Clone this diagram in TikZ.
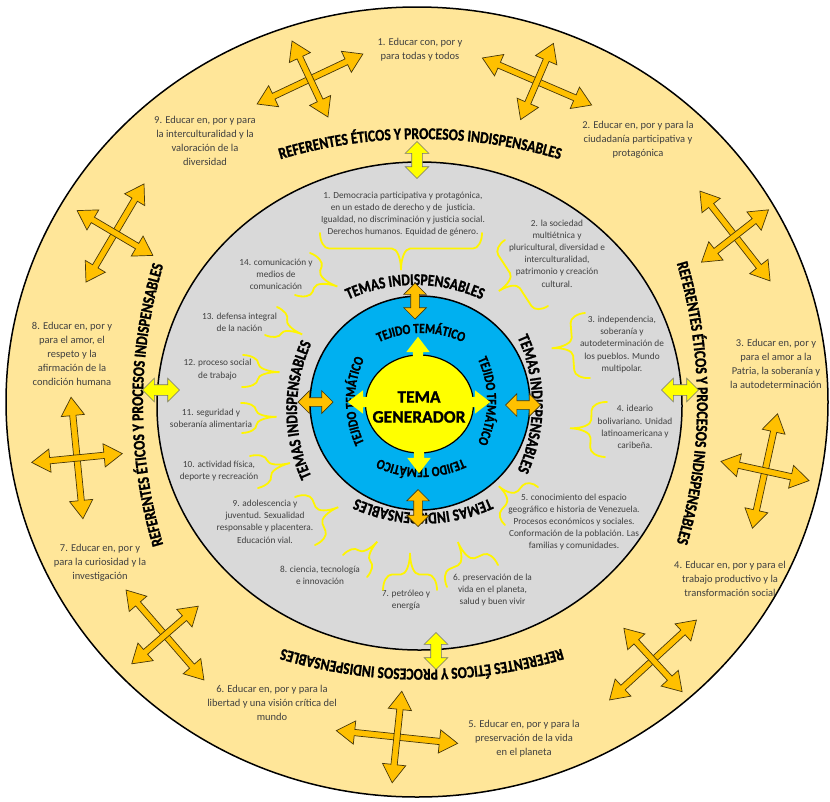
\documentclass[tikz,border=0pt]{standalone}
\usepackage{fontspec}
\setmainfont{Carlito}
\newfontfamily\arcfont{Carlito Bold}[FakeStretch=0.82, FakeBold=1.2]
\newfontfamily\genfont{Carlito Bold}[FakeBold=1.2]
\usetikzlibrary{shapes.arrows,decorations.text,calc}
\definecolor{bandorange}{RGB}{255,230,153}
\definecolor{ringgray}{RGB}{217,217,217}
\definecolor{tejidoblue}{RGB}{0,176,240}
\definecolor{generyellow}{RGB}{255,255,0}
\definecolor{arroworange}{RGB}{255,192,0}
\definecolor{arrowedge}{RGB}{70,55,10}
\definecolor{textgray}{RGB}{64,64,64}
\definecolor{bracyellow}{RGB}{255,245,0}

\begin{document}
\begin{tikzpicture}[x=1pt, y=1pt,
    outertext/.style={text=textgray, align=center, inner sep=0pt, font=\fontsize{10.5}{14}\selectfont},
    topictext/.style={text=textgray, align=center, inner sep=0pt, font=\fontsize{9.3}{12.2}\selectfont},
    ringtext/.style 2 args={decorate, decoration={text along path, text align=center,
        text={|\arcfont\fontsize{#1}{#1}\selectfont|#2}}},
    crossarm/.style={double arrow, draw=arrowedge, fill=arroworange, line width=0.7pt,
        inner xsep=0pt, inner ysep=2.8pt, double arrow head extend=8.5pt,
        double arrow tip angle=65, minimum height=#1},
    ringarrow/.style={double arrow, draw=arrowedge, fill=arroworange, line width=0.7pt,
        inner xsep=0pt, inner ysep=4pt, double arrow head extend=7pt, minimum height=#1},
    outerarrow/.style={double arrow, draw=black!55, fill=generyellow, line width=0.6pt,
        inner xsep=0pt, inner ysep=5pt, double arrow head extend=6.5pt, minimum height=37},
    genarrow/.style={single arrow, fill=generyellow, inner xsep=0pt, inner ysep=5pt,
        single arrow head extend=6.5pt, single arrow tip angle=75, minimum height=#1, anchor=tail},
    bracestroke/.style={bracyellow, line width=1.8pt, line cap=round},
    pics/brc/.style 2 args={code={
        \pgfmathsetmacro\bl{#1}\pgfmathsetmacro\ba{#2}
        \pgfmathsetmacro\bc{min(9,\bl/4)}\pgfmathsetmacro\bh{0.42*\ba}
        \draw[bracestroke] (0,0) .. controls (0,0.55*\bh) and (0.45*\bc,\bh) .. (\bc,\bh)
          -- (\bl/2-\bc,\bh) .. controls (\bl/2-0.45*\bc,\bh) and (\bl/2,\bh+0.45*\ba-0.45*\bh) .. (\bl/2,\ba)
          .. controls (\bl/2,\bh+0.45*\ba-0.45*\bh) and (\bl/2+0.45*\bc,\bh) .. (\bl/2+\bc,\bh)
          -- (\bl-\bc,\bh) .. controls (\bl-0.45*\bc,\bh) and (\bl,0.55*\bh) .. (\bl,0);
    }}
  ]
    \useasboundingbox (0,0) rectangle (830,-801);

    % Rings
    \filldraw[fill=bandorange, draw=black, line width=1.5pt] (417,-402) ellipse [x radius=411, y radius=395];
    \filldraw[fill=ringgray, draw=black, line width=1.5pt] (419.5,-406) ellipse [x radius=262.5, y radius=244];
    \filldraw[fill=tejidoblue, draw=black, line width=1.5pt] (420,-403) ellipse [x radius=110, y radius=107];
    \filldraw[fill=generyellow, draw=black, line width=1.2pt] (419.5,-404) ellipse [x radius=54, y radius=49];

    % Referentes ring (flat arches)
    \path[ringtext={16.5}{REFERENTES ÉTICOS Y PROCESOS INDISPENSABLES}]
      ($(420,-629)+(120:490)$) arc[start angle=120, end angle=60, radius=490];
    \path[ringtext={16.5}{REFERENTES ÉTICOS Y PROCESOS INDISPENSABLES}]
      ($(207,-403)+(30:490)$) arc[start angle=30, end angle=-30, radius=490];
    \path[ringtext={16.5}{REFERENTES ÉTICOS Y PROCESOS INDISPENSABLES}]
      ($(422,-179)+(-60:490)$) arc[start angle=-60, end angle=-120, radius=490];
    \path[ringtext={16.5}{REFERENTES ÉTICOS Y PROCESOS INDISPENSABLES}]
      ($(633,-405)+(210:490)$) arc[start angle=210, end angle=150, radius=490];

    % Temas ring
    \path[ringtext={16.5}{TEMAS INDISPENSABLES}]
      ($(415,-445)+(140:160)$) arc[start angle=140, end angle=40, radius=160];
    \path[ringtext={16.5}{TEMAS INDISPENSABLES}]
      ($(372,-404)+(50:160)$) arc[start angle=50, end angle=-50, radius=160];
    \path[ringtext={16.5}{TEMAS INDISPENSABLES}]
      ($(423,-353)+(-40:160)$) arc[start angle=-40, end angle=-140, radius=160];
    \path[ringtext={16.5}{TEMAS INDISPENSABLES}]
      ($(457,-410)+(230:160)$) arc[start angle=230, end angle=130, radius=160];

    % Tejido ring
    \path[ringtext={14}{TEJIDO TEMÁTICO}]
      ($(421,-433)+(150:100)$) arc[start angle=150, end angle=30, radius=100];
    \path[ringtext={14}{TEJIDO TEMÁTICO}]
      ($(387,-401)+(60:100)$) arc[start angle=60, end angle=-60, radius=100];
    \path[ringtext={14}{TEJIDO TEMÁTICO}]
      ($(421,-368)+(-30:100)$) arc[start angle=-30, end angle=-150, radius=100];
    \path[ringtext={14}{TEJIDO TEMÁTICO}]
      ($(455,-401)+(240:100)$) arc[start angle=240, end angle=120, radius=100];

    % Tema generador
    \node (gen) [font=\genfont\fontsize{17.5}{20}\selectfont, align=center] at (419,-407) {TEMA\\GENERADOR};

    % Temas indispensables
    \node (t1) [topictext] at (403,-214) {1. Democracia participativa y protagónica,\\en un estado de derecho y de\ \ justicia.\\Igualdad, no discriminación y justicia social.\\Derechos humanos. Equidad de género.};
    \node (t2) [topictext] at (557,-253.5) {2. la sociedad\\multiétnica y\\pluricultural, diversidad e\\interculturalidad,\\patrimonio y creación\\cultural.};
    \node (t3) [topictext] at (622,-344.5) {3. independencia,\\soberanía y\\autodeterminación de\\los pueblos. Mundo\\multipolar.};
    \node (t4) [topictext] at (635,-427) {4. ideario\\bolivariano. Unidad\\latinoamericana y\\caribeña.};
    \node (t5) [topictext] at (574,-522) {5. conocimiento del espacio\\geográfico e historia de Venezuela.\\Procesos económicos y sociales.\\Conformación de la población. Las\\familias y comunidades.};
    \node (t6) [topictext] at (492.5,-590) {6. preservación de la\\vida en el planeta,\\salud y buen vivir};
    \node (t7) [topictext] at (406,-600) {7. petróleo y\\energía};
    \node (t8) [topictext] at (320,-575) {8. ciencia, tecnología\\e innovación};
    \node (t9) [topictext] at (265,-521.5) {9. adolescencia y\\juventud. Sexualidad\\responsable y placentera.\\Educación vial.};
    \node (t10) [topictext] at (219,-471) {10. actividad física,\\deporte y recreación};
    \node (t11) [topictext] at (211,-418) {11. seguridad y\\soberanía alimentaria};
    \node (t12) [topictext] at (217.5,-369.5) {12. proceso social\\de trabajo};
    \node (t13) [topictext] at (239.5,-322) {13. defensa integral\\de la nación};
    \node (t14) [topictext] at (276,-274.5) {14. comunicación y\\medios de\\comunicación};

    % Braces
    \pic[rotate=180] at (482,-233) {brc={162}{37}};
    \pic[rotate=123.1] at (548,-306) {brc={78.8}{33}};
    \pic[rotate=94.4] at (590,-378) {brc={65.2}{36}};
    \pic[rotate=87.9] at (605,-457) {brc={55}{36}};
    \pic[rotate=49] at (505,-525) {brc={50.3}{30}};
    \pic[rotate=23.3] at (447,-587) {brc={55.5}{37}};
    \pic[rotate=0] at (383,-590) {brc={54}{37}};
    \pic[rotate=-42.5] at (343,-555) {brc={32.6}{33}};
    \pic[rotate=-67.4] at (295,-497) {brc={52}{36}};
    \pic[rotate=-76] at (250,-456) {brc={33}{37}};
    \pic[rotate=-88] at (241,-403) {brc={30}{35}};
    \pic[rotate=-91.8] at (243,-355) {brc={32}{37}};
    \pic[rotate=-113.2] at (277,-307) {brc={30.5}{34}};
    \pic[rotate=-109.7] at (310,-253) {brc={44.6}{37}};

    % Referentes eticos
    \node (r1) [outertext] at (420,-50) {1. Educar con, por y\\para todas y todos};
    \node (r2) [outertext] at (638,-139.5) {2. Educar en, por y para la\\ciudadanía participativa y\\protagónica};
    \node (r3) [outertext] at (776,-364) {3. Educar en, por y\\para el amor a la\\Patria, la soberanía y\\la autodeterminación};
    \node (r4) [outertext] at (730,-579) {4. Educar en, por y para el\\trabajo productivo y la\\transformación social};
    \node (r5) [outertext] at (524,-739) {5. Educar en, por y para la\\preservación de la vida\\en el planeta};
    \node (r6) [outertext] at (272,-703) {6. Educar en, por y para la\\libertad y una visión crítica del\\mundo};
    \node (r7) [outertext] at (100,-563) {7. Educar en, por y\\para la curiosidad y la\\investigación};
    \node (r8) [outertext] at (72,-354) {8. Educar en, por y\\para el amor, el\\respeto y la\\afirmación de la\\condición humana};
    \node (r9) [outertext] at (205,-141) {9. Educar en, por y para\\la interculturalidad y la\\valoración de la\\diversidad};

    % Cross arrows
    \node (c1a) [crossarm=117, rotate=25.3] at (310,-79) {};
    \node (c1b) [crossarm=84, rotate=115.3] at (310,-79) {};
    \node (c2a) [crossarm=119, rotate=-23.3] at (537,-81.5) {};
    \node (c2b) [crossarm=83, rotate=66.7] at (537,-81.5) {};
    \node (c3a) [crossarm=114, rotate=-52] at (735,-236) {};
    \node (c3b) [crossarm=85, rotate=38] at (735,-236) {};
    \node (c4a) [crossarm=117, rotate=77.6] at (765,-471) {};
    \node (c4b) [crossarm=90, rotate=-12.4] at (765,-471) {};
    \node (c5a) [crossarm=118, rotate=42.6] at (653,-660) {};
    \node (c5b) [crossarm=86, rotate=132.6] at (653,-660) {};
    \node (c6a) [crossarm=122, rotate=-6] at (397,-737) {};
    \node (c6b) [crossarm=92, rotate=84] at (397,-737) {};
    \node (c7a) [crossarm=119, rotate=-49.1] at (165,-635) {};
    \node (c7b) [crossarm=88, rotate=40.9] at (165,-635) {};
    \node (c8a) [crossarm=122, rotate=95.6] at (77,-458) {};
    \node (c8b) [crossarm=91, rotate=5.6] at (77,-458) {};
    \node (c9a) [crossarm=114, rotate=59.4] at (115,-233) {};
    \node (c9b) [crossarm=88, rotate=-30.6] at (115,-233) {};

    % Arrows between the rings
    \node (o1) [outerarrow, rotate=90] at (417,-160) {};
    \node (o2) [outerarrow] at (680,-390) {};
    \node (o3) [outerarrow, rotate=90] at (436,-651) {};
    \node (o4) [outerarrow] at (161,-390) {};
    \node (m1) [ringarrow=36, rotate=90] at (415,-301) {};
    \node (m2) [ringarrow=35] at (523,-405) {};
    \node (m3) [ringarrow=37, rotate=90] at (418,-508) {};
    \node (m4) [ringarrow=35] at (315.5,-402) {};

    % Arrows out of the tema generador
    \node (g1) [genarrow=24, rotate=90] at (418,-361) {};
    \node (g2) [genarrow=23] at (467,-402) {};
    \node (g3) [genarrow=24, rotate=-90] at (419,-449) {};
    \node (g4) [genarrow=23, rotate=180] at (371,-402) {};
\end{tikzpicture}
\end{document}
